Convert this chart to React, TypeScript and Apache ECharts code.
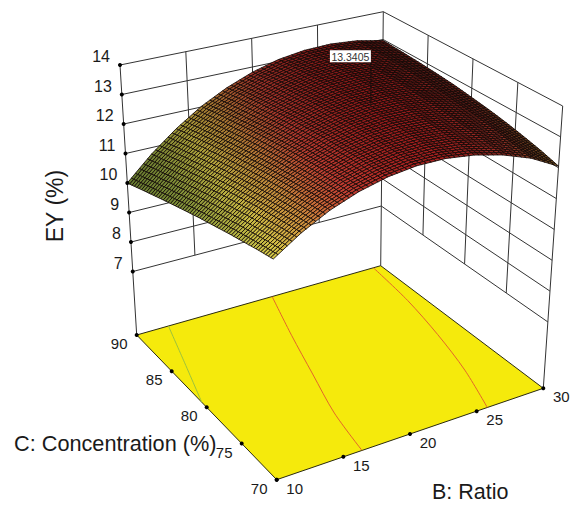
import React, { useEffect, useRef } from "react";
import * as echarts from "echarts";

// ---- values ----
const ratioGrid = [10, 12, 14, 16, 18, 20, 22, 24, 26, 28, 30];
const concGrid = [70, 72, 74, 76, 78, 80, 82, 84, 86, 88, 90];
const eyC70 = [11.52, 12.09, 12.55, 12.89, 13.12, 13.24, 13.24, 13.12, 12.89, 12.55, 12.05];
const eyC72 = [11.42, 12.01, 12.49, 12.86, 13.11, 13.25, 13.28, 13.19, 12.99, 12.67, 12.22];
const eyC74 = [11.3, 11.92, 12.42, 12.81, 13.09, 13.25, 13.3, 13.24, 13.07, 12.78, 12.36];
const eyC76 = [11.18, 11.82, 12.34, 12.75, 13.05, 13.24, 13.32, 13.28, 13.13, 12.87, 12.49];
const eyC78 = [11.04, 11.7, 12.25, 12.68, 13.01, 13.22, 13.32, 13.31, 13.19, 12.95, 12.6];
const eyC80 = [10.9, 11.58, 12.14, 12.6, 12.95, 13.18, 13.31, 13.32, 13.23, 13.02, 12.69];
const eyC82 = [10.74, 11.44, 12.03, 12.51, 12.88, 13.14, 13.28, 13.32, 13.25, 13.07, 12.78];
const eyC84 = [10.57, 11.29, 11.9, 12.4, 12.79, 13.07, 13.25, 13.31, 13.26, 13.11, 12.84];
const eyC86 = [10.39, 11.13, 11.76, 12.28, 12.7, 13.0, 13.2, 13.29, 13.26, 13.13, 12.89];
const eyC88 = [10.2, 10.96, 11.61, 12.16, 12.59, 12.92, 13.14, 13.25, 13.25, 13.15, 12.93];
const eyC90 = [10.0, 10.78, 11.45, 12.02, 12.47, 12.82, 13.07, 13.2, 13.23, 13.15, 12.96];
const eyRows = [eyC70, eyC72, eyC74, eyC76, eyC78, eyC80, eyC82, eyC84, eyC86, eyC88, eyC90];

const zTicks = [7, 8, 9, 10, 11, 12, 13, 14];
const ratioTicks = [10, 15, 20, 25, 30];
const concTicks = [70, 75, 80, 85, 90];

const contourGreenRatio = [10, 11.4, 12.6];
const contourGreenConc = [80.7, 85.8, 90];
const contourRed1Ratio = [16.4, 17.1, 18.3, 19.6, 21.1];
const contourRed1Conc = [70, 75, 80, 85, 90];
const contourRed2Ratio = [25.8, 27.1, 28.1, 28.9, 29.4];
const contourRed2Conc = [70, 75, 80, 85, 90];

const flagRatio = 22.4;
const flagConc = 79.6;
const flagValue = 13.3405;

// ---- the box's projection: eight corners of the plot box on the page ----
const FLOOR_Z = 4.85;
const TOP_Z = 14;
const floorBox = { front: [276.7, 479.7], right: [543.3, 388.3], left: [136.7, 335], back: [380.7, 265.7] };
const topBox = { front: [272, 177], right: [562.7, 106], left: [120, 65], back: [383.3, 11.7] };

function bilerp(q: any, u: number, v: number, k: number) {
  return (1 - v) * ((1 - u) * q.front[k] + u * q.right[k]) + v * ((1 - u) * q.left[k] + u * q.back[k]);
}
function project(b: number, c: number, z: number): number[] {
  const u = (b - 10) / 20;
  const v = (c - 70) / 20;
  const w = (z - FLOOR_Z) / (TOP_Z - FLOOR_Z);
  return [0, 1].map((k) => (1 - w) * bilerp(floorBox, u, v, k) + w * bilerp(topBox, u, v, k));
}

const colorStops: [number, number[]][] = [
  [9.8, [125, 155, 60]],
  [10.8, [150, 170, 66]],
  [11.6, [215, 200, 72]],
  [12.2, [208, 145, 62]],
  [12.8, [196, 62, 50]],
  [13.4, [160, 24, 26]],
];
// colour by height, dimmed towards the far side and on slopes that turn away
function surfaceColor(z: number, shade: number) {
  let rgb = colorStops[colorStops.length - 1][1];
  for (let i = 1; i < colorStops.length; i++) {
    if (z <= colorStops[i][0]) {
      const [z0, c0] = colorStops[i - 1];
      const [z1, c1] = colorStops[i];
      const t = Math.max(0, (z - z0) / (z1 - z0));
      rgb = c0.map((a, n) => a + (c1[n] - a) * t);
      break;
    }
  }
  return `rgb(${rgb.map((a) => Math.round(a * shade)).join(",")})`;
}

// each table cell is drawn as a hatched patch of MESH x MESH facets
const MESH = 6;
const surfaceCells: number[][] = [];
for (let i = concGrid.length - 2; i >= 0; i--) {
  for (let j = ratioGrid.length - 2; j >= 0; j--) {
    surfaceCells.push([
      ratioGrid[j], concGrid[i], ratioGrid[j + 1], concGrid[i + 1],
      eyRows[i][j], eyRows[i][j + 1], eyRows[i + 1][j], eyRows[i + 1][j + 1],
    ]);
  }
}

function renderCell(_p: any, api: any) {
  const [b0, c0, b1, c1, a, d, e, f] = [0, 1, 2, 3, 4, 5, 6, 7].map((n) => api.value(n));
  const at = (s: number, t: number) => {
    const z = (1 - t) * ((1 - s) * a + s * d) + t * ((1 - s) * e + s * f);
    return { z, p: project(b0 + (b1 - b0) * s, c0 + (c1 - c0) * t, z) };
  };
  const slope = ((d - a) + (f - e)) / 2 / (b1 - b0);
  const shade = 1 - 0.25 * ((c0 - 70) / 20) + 1.5 * Math.min(0, slope);
  const children: any[] = [];
  for (let m = MESH - 1; m >= 0; m--) {
    for (let n = MESH - 1; n >= 0; n--) {
      const s0 = n / MESH, s1 = (n + 1) / MESH, t0 = m / MESH, t1 = (m + 1) / MESH;
      const q = [at(s0, t0), at(s1, t0), at(s1, t1), at(s0, t1)];
      children.push({
        type: "polygon",
        shape: { points: q.map((x) => x.p) },
        style: {
          fill: surfaceColor(at((s0 + s1) / 2, (t0 + t1) / 2).z, Math.max(0.45, shade)),
          stroke: "#120806",
          lineWidth: 0.85,
        },
      });
    }
  }
  return { type: "group", children };
}

function segment(a: number[], b: number[], color: string, width: number) {
  return {
    type: "line",
    shape: { x1: a[0], y1: a[1], x2: b[0], y2: b[1] },
    style: { stroke: color, lineWidth: width, fill: "none" },
  };
}

// wall lines [b1, c1, z1, b2, c2, z2]
const wallLines: number[][] = [];
for (const z of zTicks) {
  wallLines.push([10, 90, z, 30, 90, z], [30, 90, z, 30, 70, z]);
}
for (const b of ratioTicks.slice(1, -1)) wallLines.push([b, 90, 7, b, 90, 14]);
for (const c of concTicks.slice(1, -1)) wallLines.push([30, c, 7, 30, c, 14]);
wallLines.push([10, 90, FLOOR_Z, 10, 90, 14], [30, 90, FLOOR_Z, 30, 90, 14], [30, 70, FLOOR_Z, 30, 70, 14]);

const contours = [
  { ratio: contourGreenRatio, conc: contourGreenConc, color: "#9cc23c" },
  { ratio: contourRed1Ratio, conc: contourRed1Conc, color: "#e4662a" },
  { ratio: contourRed2Ratio, conc: contourRed2Conc, color: "#e4662a" },
];

function textEl(text: any, x: number, y: number, align: string, size: number, color = "#1a1a1a") {
  return {
    type: "text",
    style: { text: String(text), x, y, align, verticalAlign: "middle", fontSize: size, fontFamily: "Liberation Sans", fill: color },
  };
}

export default function App() {
  const ref = useRef<HTMLDivElement>(null);
  useEffect(() => {
    const chart = echarts.init(ref.current!, null, { renderer: "svg" });
    const custom = (data: any[], renderItem: any, z: number) => ({
      type: "custom", coordinateSystem: "none", silent: true, z, data, renderItem,
    });
    chart.setOption({
      animation: false,
      backgroundColor: "#ffffff",
      series: [
        custom([0], () => ({
          type: "polygon",
          shape: { points: [project(10, 70, FLOOR_Z), project(30, 70, FLOOR_Z), project(30, 90, FLOOR_Z), project(10, 90, FLOOR_Z)] },
          style: { fill: "#f5ea0c", stroke: "#2a2a10", lineWidth: 1 },
        }), 1),
        custom(contours.map((_, i) => i), (p: any) => {
          const k = contours[p.dataIndex];
          return {
            type: "polyline",
            shape: { points: k.ratio.map((b, i) => project(b, k.conc[i], FLOOR_Z)), smooth: 0.3 },
            style: { stroke: k.color, lineWidth: 1, fill: "none" },
          };
        }, 2),
        custom(wallLines, (_p: any, api: any) =>
          segment(
            project(api.value(0), api.value(1), api.value(2)),
            project(api.value(3), api.value(4), api.value(5)),
            "#333333", 1), 3),
        custom(surfaceCells, renderCell, 4),
        custom([flagValue], (_p: any, api: any) => {
          const base = project(flagRatio, flagConc, api.value(0));
          const top = base[1] - 42;
          return {
            type: "group",
            children: [
              segment(base, [base[0], top], "#1a0c0a", 1),
              { type: "rect", shape: { x: base[0] - 41, y: top - 12, width: 41, height: 12 }, style: { fill: "#ffffff" } },
              textEl(api.value(0), base[0] - 20.5, top - 5.5, "center", 10.5, "#333333"),
            ],
          };
        }, 5),
        custom(zTicks, (_p: any, api: any) => {
          const v = api.value(0);
          const q = project(10, 90, v);
          return {
            type: "group",
            children: [
              { type: "circle", shape: { cx: q[0], cy: q[1], r: 2 }, style: { fill: "#000" } },
              textEl(v, q[0] - 10, q[1] - 8.5, "right", 16),
            ],
          };
        }, 6),
        custom(ratioTicks, (_p: any, api: any) => {
          const v = api.value(0);
          const q = project(v, 70, FLOOR_Z);
          return {
            type: "group",
            children: [
              { type: "circle", shape: { cx: q[0], cy: q[1], r: 2 }, style: { fill: "#000" } },
              textEl(v, q[0] + 18, q[1] + 8.5, "center", 15),
            ],
          };
        }, 6),
        custom(concTicks, (_p: any, api: any) => {
          const v = api.value(0);
          const q = project(10, v, FLOOR_Z);
          return {
            type: "group",
            children: [
              { type: "circle", shape: { cx: q[0], cy: q[1], r: 2 }, style: { fill: "#000" } },
              textEl(v, q[0] - 17.5, q[1] + 8.5, "center", 15),
            ],
          };
        }, 6),
      ],
      graphic: [
        {
          type: "text", x: 55, y: 206, rotation: Math.PI / 2, z: 10,
          style: { text: "EY (%)", align: "center", verticalAlign: "middle", fontSize: 23, fontFamily: "Liberation Sans", fill: "#1a1a1a" },
        },
        {
          type: "text", x: 14, y: 443, z: 10,
          style: { text: "C: Concentration (%)", align: "left", verticalAlign: "middle", fontSize: 21.7, fontFamily: "Liberation Sans", fill: "#1a1a1a" },
        },
        {
          type: "text", x: 432, y: 492, z: 10,
          style: { text: "B: Ratio", align: "left", verticalAlign: "middle", fontSize: 21.5, fontFamily: "Liberation Sans", fill: "#1a1a1a" },
        },
      ],
    });
    return () => chart.dispose();
  }, []);
  return <div ref={ref} style={{ position: "fixed", left: 0, top: 0, width: 571, height: 506 }} />;
}
